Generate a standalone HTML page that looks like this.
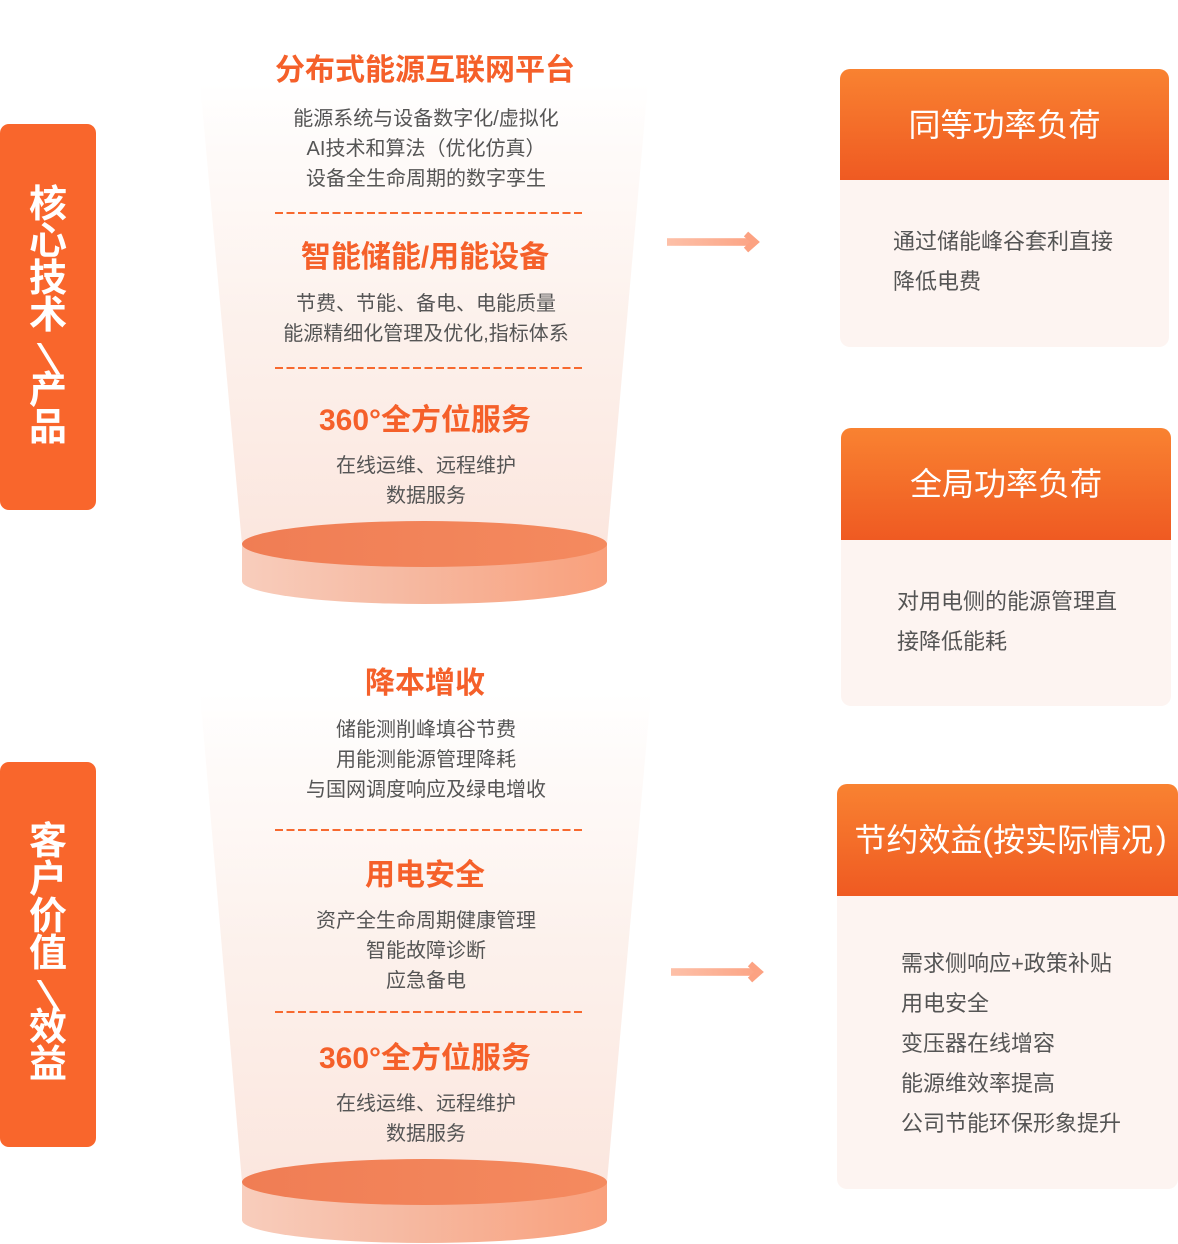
<!DOCTYPE html>
<html><head><meta charset="utf-8">
<style>
*{margin:0;padding:0;box-sizing:border-box}
body{width:1178px;height:1244px;background:#fff;position:relative;overflow:hidden;font-family:"Liberation Sans","Noto Sans CJK SC",sans-serif}
svg.bg{position:absolute;left:0;top:0}
.lab{position:absolute;left:0;width:96px;background:#f9662c;border-radius:9px;display:flex;flex-direction:column;align-items:center;justify-content:center;color:#fff;font-weight:bold;font-size:38px}
.lab div{height:37.2px;line-height:37.2px;text-align:center}
.lab .sl{font-family:"Noto Sans CJK SC",sans-serif;font-weight:normal;display:inline-block;transform:scale(-1.7,0.85)}
.ft{position:absolute;left:200px;width:450px;text-align:center;color:#f5602a;font-weight:bold;font-size:30px;line-height:40px}
.fb{position:absolute;left:200px;width:452px;text-align:center;color:#555;font-size:20px;line-height:30px}
.card{position:absolute;border-radius:10px;background:#fdf4f1;overflow:hidden}
.card .hd{background:linear-gradient(180deg,#f98231 0%,#ef5a22 100%);display:flex;align-items:center;justify-content:center;color:#fff;font-size:32px;padding-bottom:4px}
.cb{position:absolute;color:#555;font-size:22px;line-height:40px;white-space:nowrap}
</style></head><body>
<svg class="bg" width="1178" height="1244" viewBox="0 0 1178 1244">
<defs>
<linearGradient id="fbg" x1="0" y1="0" x2="0" y2="1">
<stop offset="0" stop-color="#fdf3ef" stop-opacity="0"/>
<stop offset="0.15" stop-color="#fdf3ef" stop-opacity="0.4"/>
<stop offset="0.5" stop-color="#fcefe9" stop-opacity="0.85"/>
<stop offset="1" stop-color="#fbe6de"/>
</linearGradient>
<linearGradient id="side" x1="0" y1="0" x2="1" y2="0">
<stop offset="0" stop-color="#f8cdbc"/>
<stop offset="0.45" stop-color="#f6b9a1"/>
<stop offset="1" stop-color="#f9a07c"/>
</linearGradient>
<linearGradient id="top" x1="0" y1="0" x2="1" y2="0">
<stop offset="0" stop-color="#f07d54"/>
<stop offset="1" stop-color="#f48a5f"/>
</linearGradient>
<linearGradient id="arr1" gradientUnits="userSpaceOnUse" x1="667" y1="0" x2="760" y2="0">
<stop offset="0" stop-color="#fdc0a8"/>
<stop offset="1" stop-color="#fca282"/>
</linearGradient>
<linearGradient id="arr2" gradientUnits="userSpaceOnUse" x1="671" y1="0" x2="764" y2="0">
<stop offset="0" stop-color="#fdc0a8"/>
<stop offset="1" stop-color="#fca282"/>
</linearGradient>
</defs>
<!-- funnel 1 -->
<polygon points="200,83 648,83 607,544 242,544" fill="url(#fbg)"/>
<path d="M242,544 L242,581 A182.5,23 0 0 0 607,581 L607,544 Z" fill="url(#side)"/>
<ellipse cx="424.5" cy="544" rx="182.5" ry="23" fill="url(#top)"/>
<line x1="275" y1="213" x2="583" y2="213" stroke="#f7692f" stroke-width="2" stroke-dasharray="8 3.5"/>
<line x1="275" y1="368" x2="583" y2="368" stroke="#f7692f" stroke-width="2" stroke-dasharray="8 3.5"/>
<!-- funnel 2 -->
<polygon points="200,693 651,693 607,1182 242,1182" fill="url(#fbg)"/>
<path d="M242,1182 L242,1220 A182.5,23 0 0 0 607,1220 L607,1182 Z" fill="url(#side)"/>
<ellipse cx="424.5" cy="1182" rx="182.5" ry="23" fill="url(#top)"/>
<line x1="275" y1="830" x2="583" y2="830" stroke="#f7692f" stroke-width="2" stroke-dasharray="8 3.5"/>
<line x1="275" y1="1012" x2="583" y2="1012" stroke="#f7692f" stroke-width="2" stroke-dasharray="8 3.5"/>
<!-- arrows -->
<rect x="667" y="238.2" width="87" height="7.6" fill="url(#arr1)"/>
<polyline points="746,234 755,242 746,250" fill="none" stroke="#fca282" stroke-width="6.5" stroke-linejoin="miter"/>
<rect x="671" y="968.2" width="87" height="7.6" fill="url(#arr2)"/>
<polyline points="750,964 759,972 750,980" fill="none" stroke="#fca282" stroke-width="6.5" stroke-linejoin="miter"/>
</svg>

<div class="lab" style="top:124px;height:386px">
<div>核</div><div>心</div><div>技</div><div>术</div><div><span class="sl">/</span></div><div>产</div><div>品</div>
</div>
<div class="lab" style="top:762px;height:385px">
<div>客</div><div>户</div><div>价</div><div>值</div><div><span class="sl">/</span></div><div>效</div><div>益</div>
</div>

<div class="ft" style="top:51px">分布式能源互联网平台</div>
<div class="fb" style="top:104px">能源系统与设备数字化/虚拟化<br>AI技术和算法（优化仿真）<br>设备全生命周期的数字孪生</div>
<div class="ft" style="top:238px">智能储能/用能设备</div>
<div class="fb" style="top:289px">节费、节能、备电、电能质量<br>能源精细化管理及优化,指标体系</div>
<div class="ft" style="top:401px">360°全方位服务</div>
<div class="fb" style="top:451px">在线运维、远程维护<br>数据服务</div>

<div class="ft" style="top:664px">降本增收</div>
<div class="fb" style="top:715px">储能测削峰填谷节费<br>用能测能源管理降耗<br>与国网调度响应及绿电增收</div>
<div class="ft" style="top:856px">用电安全</div>
<div class="fb" style="top:906px">资产全生命周期健康管理<br>智能故障诊断<br>应急备电</div>
<div class="ft" style="top:1039px">360°全方位服务</div>
<div class="fb" style="top:1089px">在线运维、远程维护<br>数据服务</div>

<div class="card" style="left:840px;top:69px;width:329px;height:278px"><div class="hd" style="height:111px">同等功率负荷</div></div>
<div class="cb" style="left:893px;top:222px">通过储能峰谷套利直接<br>降低电费</div>

<div class="card" style="left:841px;top:428px;width:330px;height:278px"><div class="hd" style="height:112px">全局功率负荷</div></div>
<div class="cb" style="left:897px;top:582px">对用电侧的能源管理直<br>接降低能耗</div>

<div class="card" style="left:837px;top:784px;width:341px;height:405px"><div class="hd" style="height:112px;padding-left:6px">节约效益(按实际情况<span style="margin-left:3px">)</span></div></div>
<div class="cb" style="left:901px;top:944px">需求侧响应+政策补贴<br>用电安全<br>变压器在线增容<br>能源维效率提高<br>公司节能环保形象提升</div>
</body></html>
